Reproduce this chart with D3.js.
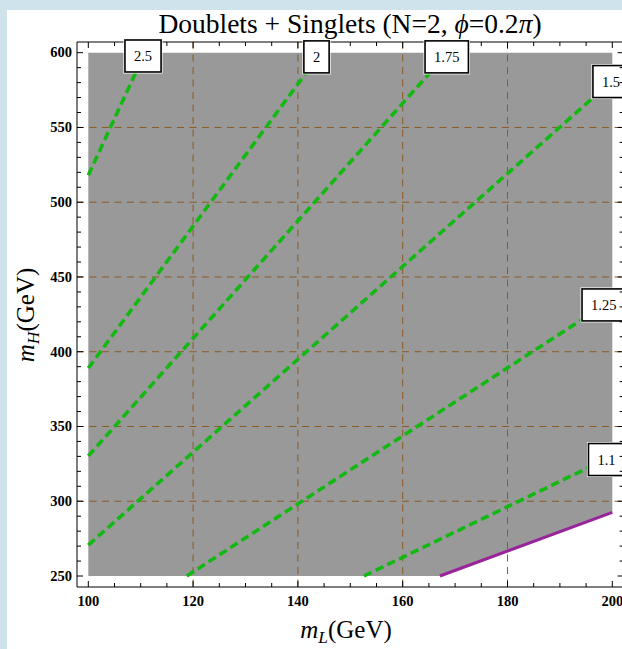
<!DOCTYPE html>
<html>
<head>
<meta charset="utf-8">
<script src="https://cdn.jsdelivr.net/npm/d3@7"></script>
<style>
  html, body { margin: 0; padding: 0; background: #cfe3ec; }
  svg { display: block; }
</style>
</head>
<body>
<svg id="chart" width="622" height="649"></svg>
<script>
// Contour levels of the ratio and their straight-segment endpoints [mL, mH]
const levels = ["2.5", "2", "1.75", "1.5", "1.25", "1.1"];
const contourStart = [[100, 518], [100, 389], [100, 330.3], [100, 270.7], [118.8, 250], [152.6, 250]];
const contourEnd   = [[110.8, 600], [144.4, 600], [168.6, 600], [200, 581.3], [200, 434.7], [200, 330.2]];
// Where each contour label sits on its line
const labelAt = [[110.44, 597.8], [143.55, 597.2], [168.4, 597.2], [199.75, 580.7], [198.36, 431.3], [198.9, 327.9]];
// Boundary of the allowed (shaded) region
const boundary = [[167.1, 250], [200, 292.6]];
// Axis ticks
const xMajor = [100, 120, 140, 160, 180, 200];
const yMajor = [250, 300, 350, 400, 450, 500, 550, 600];
const xGrid = [120, 140, 160, 180];
const yGrid = [300, 350, 400, 450, 500, 550];

const svg = d3.select("#chart");
const x = d3.scaleLinear([100, 200], [88.3, 612.3]);
const y = d3.scaleLinear([250, 600], [576, 52.7]);
const frame = { left: 77, right: 623.6, top: 42, bottom: 587 };
const serif = "'Liberation Serif', 'Times New Roman', serif";

// white panel
svg.append("rect").attr("x", 7).attr("y", 10).attr("width", 622).attr("height", 649).attr("fill", "#ffffff");

// shaded region: the box minus the corner below the boundary line
const region = [[100, 250], boundary[0], boundary[1], [200, 600], [100, 600]];
svg.append("path")
  .attr("d", d3.line().x(d => x(d[0])).y(d => y(d[1]))(region) + "Z")
  .attr("fill", "#999999");

// dashed grid lines across the frame
const gridColor = "#8c5a22";
svg.append("g").selectAll("line").data(xGrid).join("line")
  .attr("x1", d => x(d)).attr("x2", d => x(d))
  .attr("y1", frame.top).attr("y2", frame.bottom)
  .attr("stroke", gridColor).attr("stroke-width", 1).attr("stroke-dasharray", "7,5.5");
svg.append("g").selectAll("line").data(yGrid).join("line")
  .attr("y1", d => y(d)).attr("y2", d => y(d))
  .attr("x1", frame.left).attr("x2", frame.right)
  .attr("stroke", gridColor).attr("stroke-width", 1).attr("stroke-dasharray", "7,5.5");

// contour lines
svg.append("g").selectAll("line").data(levels).join("line")
  .attr("x1", (d, i) => x(contourStart[i][0])).attr("y1", (d, i) => y(contourStart[i][1]))
  .attr("x2", (d, i) => x(contourEnd[i][0])).attr("y2", (d, i) => y(contourEnd[i][1]))
  .attr("stroke", "#13b813").attr("stroke-width", 3.6).attr("stroke-dasharray", "8.5,4.5");

// boundary line
svg.append("line")
  .attr("x1", x(boundary[0][0])).attr("y1", y(boundary[0][1]))
  .attr("x2", x(boundary[1][0])).attr("y2", y(boundary[1][1]))
  .attr("stroke", "#99239b").attr("stroke-width", 3);

// frame lines
const fr = svg.append("g").attr("stroke", "#000").attr("stroke-width", 1).attr("fill", "none");
fr.append("line").attr("x1", frame.left).attr("x2", frame.right).attr("y1", frame.bottom).attr("y2", frame.bottom);
fr.append("line").attr("x1", frame.left).attr("x2", frame.left).attr("y1", frame.top).attr("y2", frame.bottom);
fr.append("line").attr("x1", frame.left).attr("x2", frame.right).attr("y1", frame.top).attr("y2", frame.top);
fr.append("line").attr("x1", frame.right).attr("x2", frame.right).attr("y1", frame.top).attr("y2", frame.bottom);

// inward ticks
const xMinor = d3.range(100, 200.01, 5).filter(v => !xMajor.includes(v));
const yMinor = d3.range(250, 600.01, 10).filter(v => !yMajor.includes(v));
function xTicks(g, vals, len) {
  vals.forEach(v => {
    g.append("line").attr("x1", x(v)).attr("x2", x(v)).attr("y1", frame.bottom).attr("y2", frame.bottom - len);
    g.append("line").attr("x1", x(v)).attr("x2", x(v)).attr("y1", frame.top).attr("y2", frame.top + len);
  });
}
function yTicks(g, vals, len, xEdge, dir) {
  vals.forEach(v => {
    g.append("line").attr("y1", y(v)).attr("y2", y(v)).attr("x1", xEdge).attr("x2", xEdge + dir * len);
  });
}
const tk = svg.append("g").attr("stroke", "#000").attr("stroke-width", 1);
xTicks(tk, xMajor, 6); xTicks(tk, xMinor, 4);
yTicks(tk, yMajor, 6, frame.left, 1); yTicks(tk, yMinor, 4, frame.left, 1);

// contour labels
const lab = svg.append("g").selectAll("g").data(levels).join("g")
  .attr("transform", (d, i) => `translate(${x(labelAt[i][0])},${y(labelAt[i][1])})`);
lab.each(function (d) {
  const g = d3.select(this);
  const t = g.append("text").text(d)
    .attr("font-family", serif)
    .attr("font-size", 14.5).attr("text-anchor", "middle").attr("dy", "0.35em").attr("fill", "#000");
  const w = t.node().getComputedTextLength() + 18, h = 32;
  g.insert("rect", "text").attr("x", -w / 2 - 1.5).attr("y", -h / 2 - 1.5).attr("width", w + 3).attr("height", h + 3)
    .attr("fill", "#fff");
  g.insert("rect", "text").attr("x", -w / 2).attr("y", -h / 2).attr("width", w).attr("height", h)
    .attr("fill", "#fff").attr("stroke", "#000").attr("stroke-width", 1.6);
});

// right-side ticks sit above the labels
const tkR = svg.append("g").attr("stroke", "#000").attr("stroke-width", 1);
yTicks(tkR, yMajor, 6, frame.right, -1); yTicks(tkR, yMinor, 4, frame.right, -1);

// tick labels
svg.append("g").selectAll("text").data(xMajor).join("text")
  .attr("x", d => x(d)).attr("y", 606).text(d => d)
  .attr("font-family", serif).attr("font-weight", "bold").attr("font-size", 14.5)
  .attr("text-anchor", "middle");
svg.append("g").selectAll("text").data(yMajor).join("text")
  .attr("x", 72).attr("y", d => y(d)).attr("dy", "0.33em").text(d => d)
  .attr("font-family", serif).attr("font-weight", "bold").attr("font-size", 14.5)
  .attr("text-anchor", "end");

// title
const title = svg.append("text").attr("x", 350).attr("y", 33)
  .attr("font-family", serif).attr("font-size", 27.5).attr("text-anchor", "middle");
title.append("tspan").text("Doublets + Singlets (N=2, ");
title.append("tspan").attr("font-style", "italic").text("\u03D5");
title.append("tspan").text("=0.2");
title.append("tspan").attr("font-style", "italic").text("\u03C0");
title.append("tspan").text(")");

// axis titles
function axisTitle(sel, sub) {
  sel.attr("font-family", serif).attr("font-size", 25).attr("text-anchor", "middle");
  sel.append("tspan").attr("font-style", "italic").text("m");
  sel.append("tspan").attr("font-style", "italic").attr("font-size", 17.5).attr("dy", 5).text(sub);
  sel.append("tspan").attr("dy", -5).text("(GeV)");
}
axisTitle(svg.append("text").attr("x", 346).attr("y", 638), "L");
axisTitle(svg.append("text").attr("transform", "translate(33.5,315) rotate(-90)"), "H");
</script>
</body>
</html>
